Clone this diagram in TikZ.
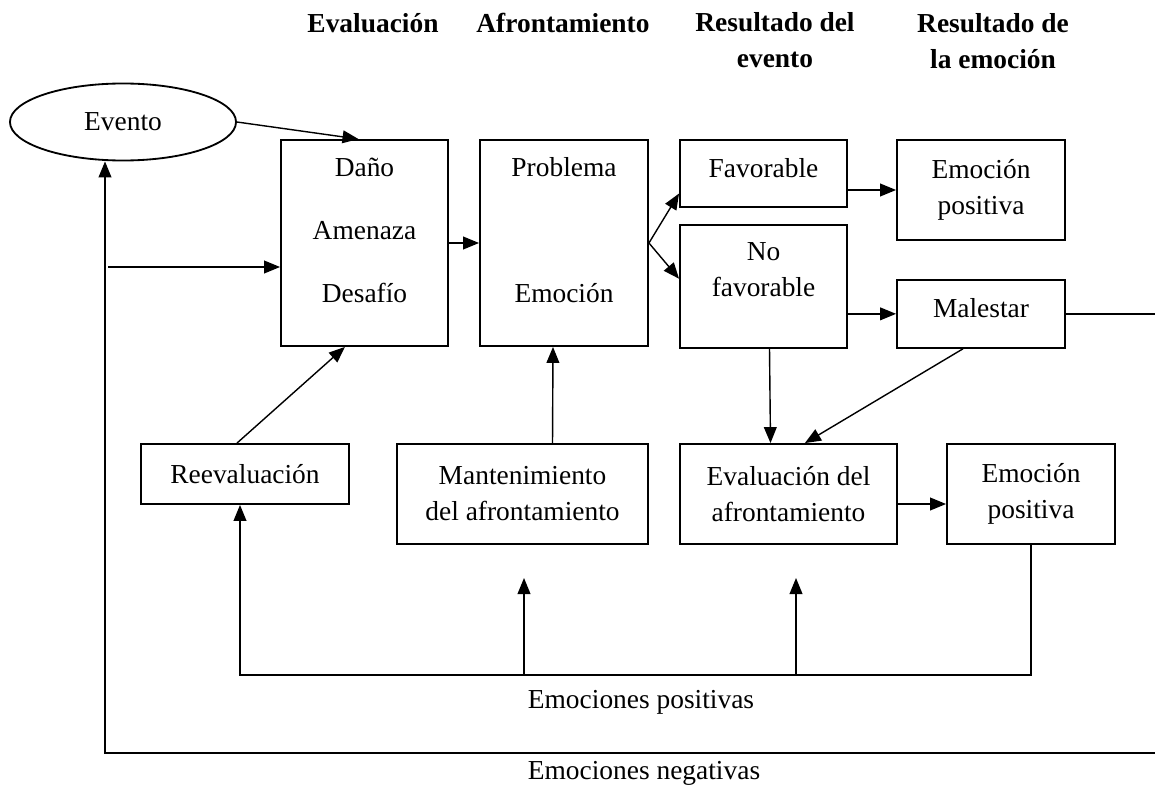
\documentclass[tikz,border=0pt]{standalone}
\usepackage{fontspec}
\setmainfont{Liberation Serif}
\usetikzlibrary{positioning, shapes.geometric, arrows.meta}

\newcommand{\cuerpo}{\fontsize{19.5}{25.6}\selectfont}
\tikzset{
  caja/.style={draw, rectangle, line width=1.3pt, inner sep=0pt, align=center, font=\cuerpo},
  flecha/.style={-{Triangle[length=0.4cm,width=0.32cm]}, line width=1pt},
  linea/.style={line width=1pt},
  titulo/.style={font=\cuerpo\bfseries, align=center, inner sep=0pt},
}

\begin{document}
\begin{tikzpicture}[x=0.025cm, y=-0.025cm]
    \useasboundingbox (0,0) rectangle (1155,787);

    % Column headers
    \foreach \x/\y/\t in {373/23/Evaluación, 563/23/Afrontamiento, 775/40/{Resultado del\\evento}, 993/41/{Resultado de\\la emoción}} {
      \node[titulo] at (\x,\y) {\t};
    }

    % Boxes
    \node[draw, ellipse, line width=1.3pt, minimum width=5.65cm, minimum height=1.925cm, font=\cuerpo] (evento) at (123,122) {Evento};
    \node[caja, minimum width=4.175cm, minimum height=5.15cm] (dano) at (364.5,243) {Daño\\[0.675cm]Amenaza\\[0.675cm]Desafío\\[-0.25cm]\mbox{}};
    \node[caja, minimum width=4.2cm, minimum height=5.15cm] (problema) at (564,243) {Problema\\[0.675cm]\mbox{}\\[0.675cm]Emoción\\[-0.25cm]\mbox{}};
    \node[caja, minimum width=4.175cm, minimum height=1.675cm] (favorable) at (763.5,173.5) {Favorable\\[-0.6cm]\mbox{}};
    \node[caja, minimum width=4.175cm, minimum height=3.075cm, below=0.4cm of favorable] (nofav) {No\\favorable\\[-0.075cm]\mbox{}};
    \node[caja, minimum width=4.2cm, minimum height=2.5cm] (emopos) at (981,190) {Emoción\\positiva};
    \node[caja, minimum width=4.2cm, minimum height=1.7cm, below=0.95cm of emopos] (malestar) {Malestar\\[-0.6cm]\mbox{}};
    \node[caja, minimum width=5.2cm, minimum height=1.5cm] (reeval) at (245,474) {Reevaluación};
    \node[caja, minimum width=6.275cm, minimum height=2.5cm] (mant) at (522.5,494) {Mantenimiento\\del afrontamiento};
    \node[caja, minimum width=5.425cm, minimum height=2.5cm] (evalaf) at (788.5,494) {Evaluación del\\afrontamiento};
    \node[caja, minimum width=4.2cm, minimum height=2.5cm] (emopos2) at (1031,494) {Emoción\\positiva};

    % Loop labels
    \node[font=\cuerpo] (lblpos) at (641,702) {Emociones positivas};
    \node[font=\cuerpo] (lblneg) at (644,773) {Emociones negativas};

    % Free ends
    \coordinate (inL) at (108,267);
    \coordinate (malR) at (1155,312);
    \coordinate (negR) at (1155,753);
    \coordinate (negL) at (105,753);
    \coordinate (posL) at (240,675);

    % Forward arrows
    \draw[flecha] (evento.east) -- ([xshift=-0.15cm]dano.north);
    \draw[flecha] (inL) -- (inL -| dano.west);
    \draw[flecha] (dano.east) -- (problema.west);
    \draw[flecha] (problema.east) -- ([yshift=-0.5cm]favorable.west);
    \draw[flecha] (problema.east) -- ([yshift=0.19cm]nofav.west);
    \draw[flecha] (favorable.east |- emopos.west) -- (emopos.west);
    \draw[flecha] (nofav.east |- malestar.west) -- (malestar.west);
    \draw[linea] (malestar.east) -- (malestar.east -| malR);
    \draw[flecha] ([xshift=0.15cm]nofav.south) -- ([xshift=-0.45cm]evalaf.north);
    \draw[flecha] ([xshift=-0.45cm]malestar.south) -- ([xshift=0.41cm]evalaf.north);
    \draw[flecha] ([yshift=-0.25cm]evalaf.east) -- ([yshift=-0.25cm]emopos2.west);

    % Feedback arrows
    \draw[flecha] ([xshift=-0.2cm]reeval.north) -- ([xshift=-0.49cm]dano.south);
    \draw[flecha] ([xshift=0.75cm]mant.north) -- ([xshift=-0.275cm]problema.south);

    % Positive emotions loop
    \draw[flecha] (emopos2.south) |- (posL) -- (posL |- reeval.south);
    \foreach \x in {524, 796} {
      \draw[flecha] (\x,675) -- (\x,578);
    }

    % Negative emotions loop
    \draw[flecha] (negR) -- (negL) -- (negL |- evento.south);
\end{tikzpicture}
\end{document}
